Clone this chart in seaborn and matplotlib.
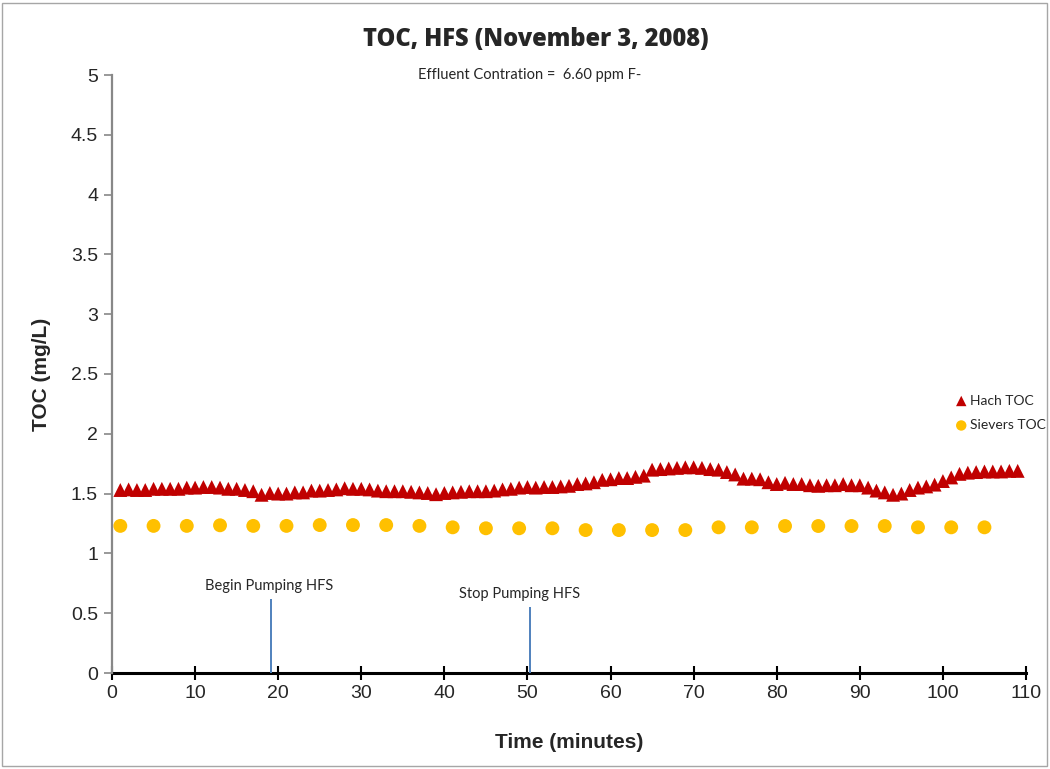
import matplotlib
matplotlib.use("Agg")
import matplotlib.pyplot as plt
import seaborn as sns
import pandas as pd
from matplotlib.patches import Rectangle

# Hach TOC readings, one per minute
hach_time = list(range(1, 110))
hach_toc = [
    1.53, 1.535, 1.53, 1.53, 1.54, 1.54, 1.54, 1.54, 1.55, 1.55,
    1.555, 1.555, 1.55, 1.54, 1.54, 1.53, 1.52, 1.49, 1.505, 1.50,
    1.50, 1.51, 1.51, 1.525, 1.525, 1.53, 1.535, 1.545, 1.54, 1.54,
    1.535, 1.525, 1.52, 1.52, 1.52, 1.515, 1.51, 1.505, 1.495, 1.505,
    1.51, 1.515, 1.52, 1.52, 1.52, 1.525, 1.535, 1.54, 1.55, 1.555,
    1.55, 1.555, 1.555, 1.56, 1.565, 1.58, 1.585, 1.595, 1.615, 1.62,
    1.63, 1.63, 1.64, 1.65, 1.70, 1.705, 1.71, 1.715, 1.72, 1.72,
    1.715, 1.705, 1.70, 1.68, 1.66, 1.625, 1.625, 1.62, 1.595, 1.58,
    1.59, 1.58, 1.58, 1.57, 1.565, 1.57, 1.57, 1.58, 1.57, 1.57,
    1.55, 1.525, 1.51, 1.49, 1.50, 1.53, 1.55, 1.56, 1.575, 1.605,
    1.635, 1.665, 1.675, 1.68, 1.685, 1.685, 1.685, 1.69, 1.69,
]

# Sievers TOC readings, every four minutes
sievers_time = [1, 5, 9, 13, 17, 21, 25, 29, 33, 37, 41, 45, 49, 53,
                57, 61, 65, 69, 73, 77, 81, 85, 89, 93, 97, 101, 105]
sievers_toc = [1.23, 1.23, 1.23, 1.235, 1.23, 1.23, 1.237, 1.237, 1.237,
               1.23, 1.218, 1.21, 1.21, 1.21, 1.195, 1.195, 1.195, 1.195,
               1.218, 1.218, 1.229, 1.229, 1.229, 1.229, 1.218, 1.218, 1.218]

# Pumping events
event_time = [19.1, 50.3]
event_height = [0.62, 0.55]
event_label = ["Begin Pumping HFS", "Stop Pumping HFS"]

x_ticks = [0, 10, 20, 30, 40, 50, 60, 70, 80, 90, 100, 110]
y_ticks = [0, 0.5, 1, 1.5, 2, 2.5, 3, 3.5, 4, 4.5, 5]
y_tick_labels = ["0", "0.5", "1", "1.5", "2", "2.5", "3", "3.5", "4", "4.5", "5"]

sns.set_theme(style="white")
plt.rcParams["font.family"] = ["Liberation Sans", "DejaVu Sans"]
calibri_like = ["Lato", "DejaVu Sans"]

hach_df = pd.DataFrame({"Time": hach_time, "TOC": hach_toc})
sievers_df = pd.DataFrame({"Time": sievers_time, "TOC": sievers_toc})

fig = plt.figure(figsize=(10.5, 7.69), dpi=100)
ax = fig.add_axes([112 / 1050, 1 - 673 / 769, (1026 - 112) / 1050, (673 - 75) / 769])

sns.scatterplot(data=hach_df, x="Time", y="TOC", marker="^", s=100,
                color="#C00000", edgecolor="none", label="Hach TOC", ax=ax)
sns.scatterplot(data=sievers_df, x="Time", y="TOC", marker="o", s=100,
                color="#FFC000", edgecolor="none", label="Sievers TOC", ax=ax)

# Event markers
ax.vlines(event_time, 0, event_height, color="#4F81BD", linewidth=1.4, zorder=1)
label_x = [event_time[0] - 0.2, event_time[1] - 1.2]
label_y = [event_height[0] + 0.05, event_height[1] + 0.05]
for lx, ly, txt in zip(label_x, label_y, event_label):
    ax.text(lx, ly, txt, ha="center", va="bottom", fontsize=10.5, family=calibri_like)

ax.set_xlim(0, 110)
ax.set_ylim(0, 5)
ax.set_xticks(x_ticks)
ax.set_yticks(y_ticks)
ax.set_yticklabels(y_tick_labels)
ax.tick_params(axis="x", direction="inout", length=10, width=1.5, color="black",
               labelsize=14, pad=4, bottom=True)
ax.tick_params(axis="y", direction="out", length=6, width=1.2, color="#888888",
               labelsize=14, pad=4, left=True)

for side in ["top", "right"]:
    ax.spines[side].set_visible(False)
ax.spines["left"].set_color("#888888")
ax.spines["left"].set_linewidth(1.6)
ax.spines["bottom"].set_color("black")
ax.spines["bottom"].set_linewidth(2.2)
ax.spines["bottom"].set_zorder(0.5)

ax.set_xlabel("Time (minutes)", fontsize=15, fontweight="bold", labelpad=22)
ax.set_ylabel("TOC (mg/L)", fontsize=15, fontweight="bold", labelpad=14)

ax.legend(loc="center left", bbox_to_anchor=(0.917, 0.435), frameon=False,
          handlelength=0.8, handletextpad=0.25, labelspacing=0.9, borderaxespad=0,
          prop={"family": calibri_like, "size": 10}, markerscale=0.75)

fig.text(536 / 1050, 1 - 40 / 769, "TOC, HFS (November 3, 2008)", ha="center",
         va="center", fontsize=17, fontweight="heavy", family=["Open Sans", "DejaVu Sans"])
fig.text(530 / 1050, 1 - 75 / 769, "Effluent Contration =  6.60 ppm F-", ha="center",
         va="center", fontsize=10.5, family=calibri_like)

# Chart border
fig.patches.append(Rectangle((0.002, 0.004), 0.995, 0.992, transform=fig.transFigure,
                             fill=False, edgecolor="#a6a6a6", linewidth=1.0))

fig.savefig("out.png", dpi=100)
